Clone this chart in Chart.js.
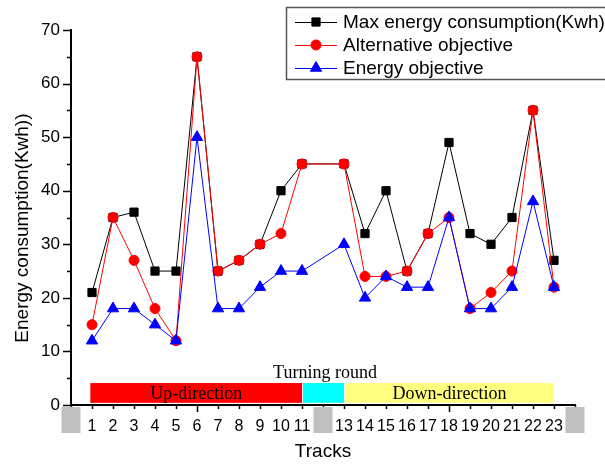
<!DOCTYPE html>
<html>
<head>
<meta charset="utf-8">
<script src="https://cdn.jsdelivr.net/npm/chart.js@4"></script>
<style>
  html, body { margin: 0; padding: 0; background: #fff; }
  #wrap { width: 605px; height: 466px; }
</style>
</head>
<body>
<div id="wrap"><canvas id="energyChart" width="605" height="466"></canvas></div>
<script>
// track 12 is the turning round, it has no value
var tracks = [1, 2, 3, 4, 5, 6, 7, 8, 9, 10, 11, 13, 14, 15, 16, 17, 18, 19, 20, 21, 22, 23];
var maxEnergy = [21, 35, 36, 25, 25, 65, 25, 27, 30, 40, 45, 45, 32, 40, 25, 32, 49, 32, 30, 35, 55, 27];
var altObjective = [15, 35, 27, 18, 12, 65, 25, 27, 30, 32, 45, 45, 24, 24, 25, 32, 35, 18, 21, 25, 55, 22];
var energyObjective = [12, 18, 18, 15, 12, 50, 18, 18, 22, 25, 25, 30, 20, 24, 22, 22, 35, 18, 18, 22, 38, 22];
var seriesNames = ['Max energy consumption(Kwh)', 'Alternative objective', 'Energy objective'];
var hiddenTrackLabels = [0, 12, 24];
var segmentNames = ['Up-direction', '', 'Down-direction'];
var segmentFrom = [0.92, 11, 13];
var segmentTo = [11, 13, 23];
var turningLabel = 'Turning round';

function toPoints(values) {
    return tracks.map(function (t, i) { return { x: t, y: values[i] }; });
}

var sans = '"Liberation Sans", Arial, sans-serif';
var serif = '"Liberation Serif", "Times New Roman", serif';

var extras = {
    id: 'extras',
    beforeDatasetsDraw: function (chart) {
        var ctx = chart.ctx, xs = chart.scales.x, ys = chart.scales.y;
        var top = ys.getPixelForValue(4.1), bottom = ys.getPixelForValue(0.4);
        var colors = ['#ff0000', '#00ffff', '#ffff80'];
        ctx.save();
        for (var i = 0; i < segmentFrom.length; i++) {
            var x1 = xs.getPixelForValue(segmentFrom[i]) + (i > 0 ? 1 : 0);
            var x2 = xs.getPixelForValue(segmentTo[i]);
            ctx.fillStyle = colors[i];
            ctx.fillRect(x1, top, x2 - x1, bottom - top);
            if (segmentNames[i]) {
                ctx.fillStyle = '#000';
                ctx.font = '18px ' + serif;
                ctx.textAlign = 'center';
                ctx.textBaseline = 'middle';
                ctx.fillText(segmentNames[i], (x1 + x2) / 2, (top + bottom) / 2 + 1);
            }
        }
        ctx.fillStyle = '#000';
        ctx.font = '18px ' + serif;
        ctx.textAlign = 'center';
        ctx.textBaseline = 'alphabetic';
        ctx.fillText(turningLabel, xs.getPixelForValue(12) + 2, top - 5);
        ctx.restore();
    },
    afterDraw: function (chart) {
        var ctx = chart.ctx, xs = chart.scales.x, ys = chart.scales.y;
        var area = chart.chartArea;
        ctx.save();
        // axis ticks
        ctx.strokeStyle = '#000';
        ctx.lineWidth = 1.5;
        ctx.beginPath();
        for (var v = 0; v <= 24; v++) {
            var px = Math.round(xs.getPixelForValue(v)) + 0.5;
            ctx.moveTo(px, area.bottom);
            ctx.lineTo(px, area.bottom + (v % 6 === 0 ? 7 : 4));
        }
        for (var w = 0; w <= 70; w += 5) {
            var py = Math.round(ys.getPixelForValue(w)) + 0.5;
            ctx.moveTo(area.left, py);
            ctx.lineTo(area.left - (w % 10 === 0 ? 8 : 4), py);
        }
        ctx.stroke();
        // grey boxes over the hidden track labels
        ctx.fillStyle = '#c0c0c0';
        hiddenTrackLabels.forEach(function (t) {
            var cx = xs.getPixelForValue(t);
            ctx.fillRect(cx - 9.5, area.bottom + 2, 19, 26);
        });
        // legend
        ctx.fillStyle = '#fff';
        ctx.fillRect(286.5, 7.5, 330, 72);
        ctx.strokeStyle = '#555';
        ctx.lineWidth = 1.5;
        ctx.strokeRect(286.5, 7.5, 330, 72);
        chart.data.datasets.forEach(function (ds, i) {
            var y = 22 + i * 23;
            ctx.strokeStyle = ds.borderColor;
            ctx.lineWidth = 1;
            ctx.beginPath();
            ctx.moveTo(295, y + 0.5);
            ctx.lineTo(337, y + 0.5);
            ctx.stroke();
            ctx.fillStyle = ds.pointBackgroundColor;
            ctx.strokeStyle = ds.pointBorderColor;
            Chart.helpers.drawPoint(ctx, {
                pointStyle: ds.pointStyle, radius: ds.pointRadius, rotation: 0, borderWidth: 1
            }, 316, y);
            ctx.fillStyle = '#000';
            ctx.font = '19px ' + sans;
            ctx.textAlign = 'left';
            ctx.textBaseline = 'middle';
            ctx.fillText(ds.label, 343, y + 1);
        });
        ctx.restore();
    }
};

var energyCtx = document.getElementById('energyChart').getContext('2d');
var energyChart = new Chart(energyCtx, {
    type: 'line',
    data: {
        datasets: [{
            label: seriesNames[0],
            data: toPoints(maxEnergy),
            borderColor: '#000000',
            borderWidth: 1,
            pointStyle: 'rect',
            pointRadius: 5.8,
            pointBackgroundColor: '#000000',
            pointBorderColor: '#000000',
            order: 3
        }, {
            label: seriesNames[1],
            data: toPoints(altObjective),
            borderColor: '#ff0000',
            borderWidth: 1,
            pointStyle: 'circle',
            pointRadius: 5,
            pointBackgroundColor: '#ff0000',
            pointBorderColor: '#ff0000',
            order: 2
        }, {
            label: seriesNames[2],
            data: toPoints(energyObjective),
            borderColor: '#0000ff',
            borderWidth: 1,
            pointStyle: 'triangle',
            pointRadius: 6.5,
            pointBackgroundColor: '#0000ff',
            pointBorderColor: '#0000ff',
            order: 1
        }]
    },
    options: {
        responsive: false,
        animation: false,
        devicePixelRatio: 1,
        layout: { padding: { top: 30, right: 30, left: 0, bottom: 0 } },
        plugins: {
            legend: { display: false },
            tooltip: { enabled: false }
        },
        scales: {
            x: {
                type: 'linear',
                min: 0,
                max: 24,
                afterFit: function (scale) { scale.height = 61; },
                grid: { drawOnChartArea: false, drawTicks: false },
                border: { color: '#000', width: 2 },
                ticks: {
                    stepSize: 1,
                    autoSkip: false,
                    maxRotation: 0,
                    padding: 12,
                    color: '#000',
                    font: { family: sans, size: 16 },
                    callback: function (value) {
                        return hiddenTrackLabels.indexOf(value) >= 0 ? '' : value;
                    }
                },
                title: {
                    display: true,
                    text: 'Tracks',
                    color: '#000',
                    font: { family: sans, size: 19 },
                    padding: { top: 0, bottom: 3 }
                }
            },
            y: {
                min: 0,
                max: 70,
                afterFit: function (scale) { scale.width = 71; },
                grid: { drawOnChartArea: false, drawTicks: false },
                border: { color: '#000', width: 2 },
                ticks: {
                    stepSize: 10,
                    padding: 11,
                    color: '#000',
                    font: { family: sans, size: 17 }
                },
                title: {
                    display: true,
                    // trailing spaces push the visible text down to where the original sits
                    text: 'Energy consumption(Kwh))\u00a0\u00a0\u00a0\u00a0',
                    color: '#000',
                    font: { family: sans, size: 19 },
                    padding: { top: 11, bottom: 0 }
                }
            }
        }
    },
    plugins: [extras]
});
</script>
</body>
</html>
